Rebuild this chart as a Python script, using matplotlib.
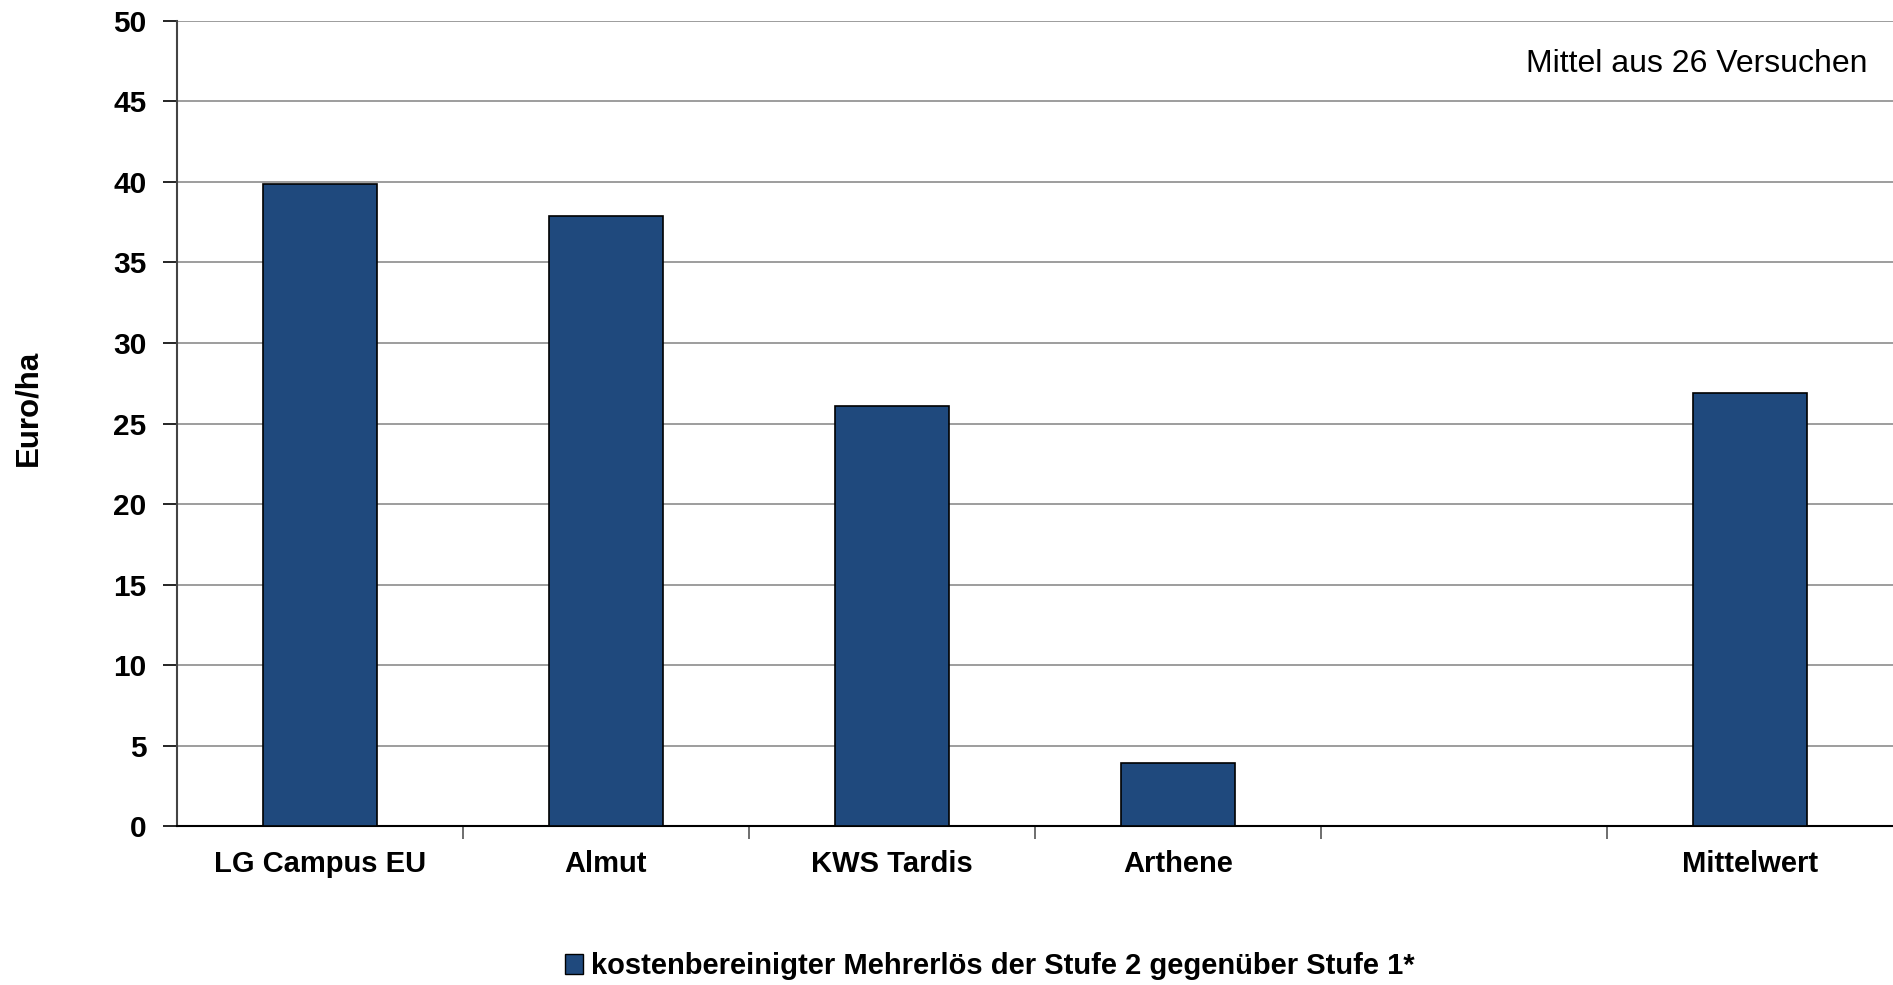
import matplotlib.pyplot as plt
from matplotlib.patches import Patch

plt.rcParams['font.family'] = ['Liberation Sans', 'DejaVu Sans']

# Werte (Euro/ha)
sorten = ["LG Campus EU", "Almut", "KWS Tardis", "Arthene", "", "Mittelwert"]
mehrerloes = [39.9, 37.9, 26.1, 3.9, None, 26.9]
y_ticks = [0, 5, 10, 15, 20, 25, 30, 35, 40, 45, 50]

BAR_COLOR = "#1F497D"

fig = plt.figure(figsize=(18.93, 9.85), dpi=100)
ax = fig.add_axes([0.0935, 0.1614, 0.9065, 0.8173])

x_pos = [i for i, v in enumerate(mehrerloes) if v is not None]
heights = [v for v in mehrerloes if v is not None]
ax.bar(x_pos, heights, width=0.4, color=BAR_COLOR, edgecolor="black",
       linewidth=1.2, zorder=3)

ax.set_xlim(-0.5, len(sorten) - 0.5)
ax.set_ylim(0, 50)
ax.set_yticks(y_ticks)
ax.set_yticklabels([str(t) for t in y_ticks], fontsize=21.5, fontweight="bold")
ax.yaxis.grid(True, color="#8c8c8c", linewidth=1.2, zorder=0)

# Kategorie-Trennstriche an den Grenzen, Beschriftungen mittig
ax.set_xticks([i + 0.5 for i in range(len(sorten) - 1)])
ax.set_xticklabels([])
ax.set_xticks(range(len(sorten)), minor=True)
ax.set_xticklabels(sorten, minor=True, fontsize=21, fontweight="bold")
ax.tick_params(axis="x", which="minor", length=0, pad=17)
ax.tick_params(axis="x", which="major", length=9, width=1.2, color="#555555")
ax.tick_params(axis="y", length=10, width=1.2, pad=12)

for side in ["top", "right"]:
    ax.spines[side].set_visible(False)
ax.spines["left"].set_color("#444444")
ax.spines["left"].set_linewidth(1.5)
ax.spines["bottom"].set_linewidth(1.5)

ax.set_ylabel("Euro/ha", fontsize=22.5, fontweight="bold")
ax.yaxis.set_label_coords(-0.078, 0.52)

ax.text(0.985, 0.946, "Mittel aus 26 Versuchen", transform=ax.transAxes,
        ha="right", va="center", fontsize=23)

handle = Patch(facecolor=BAR_COLOR, edgecolor="black", linewidth=1)
fig.legend([handle], ["kostenbereinigter Mehrerlös der Stufe 2 gegenüber Stufe 1*"],
           loc="center", bbox_to_anchor=(0.523, 0.019), frameon=False,
           prop={"size": 21, "weight": "bold"}, handlelength=0.6,
           handleheight=0.7, handletextpad=0.3)

fig.savefig("out.png", dpi=100)
